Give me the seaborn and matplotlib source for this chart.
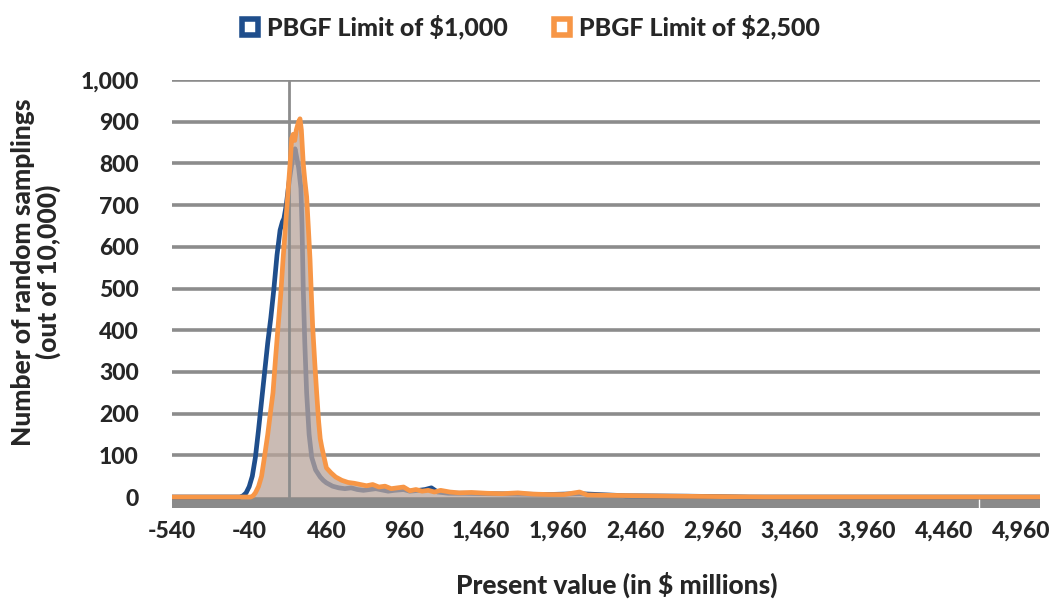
import numpy as np
import pandas as pd
import matplotlib
matplotlib.use("Agg")
import matplotlib.pyplot as plt
from matplotlib.lines import Line2D
from matplotlib.ticker import FuncFormatter
import seaborn as sns

# distribution of present value, PBGF limit $1,000
pv_1000 = [-540, -100, -80, -60, -40, -20, 0, 20, 40, 60, 80, 100, 120, 140, 160,
           175, 185, 200, 220, 240, 257, 280, 295, 302, 310, 320, 332, 348, 365,
           390, 420, 440, 460, 500, 540, 580, 620, 660, 700, 740, 780, 820, 860,
           900, 960, 1000, 1060, 1100, 1140, 1180, 1250, 1350, 1500, 1700, 1900,
           2100, 2400, 2800, 3200, 5083]
count_1000 = [0, 0, 3, 10, 25, 50, 95, 160, 230, 300, 370, 430, 500, 580, 640,
              660, 668, 700, 760, 810, 835, 790, 740, 650, 500, 370, 250, 150, 95,
              65, 48, 40, 34, 26, 22, 20, 22, 18, 16, 18, 20, 17, 14,
              16, 18, 14, 16, 18, 22, 12, 9, 9, 8, 7, 6,
              8, 3, 2, 0, 0]

# distribution of present value, PBGF limit $2,500
pv_2500 = [-540, -30, -15, 0, 20, 40, 56, 80, 100, 114, 130, 147, 165, 179, 195,
           211, 225, 235, 245, 255, 265, 280, 289, 298, 310, 320, 332, 344, 354,
           362, 371, 385, 397, 410, 420, 430, 445, 460, 490, 520, 560, 600, 640,
           680, 720, 760, 800, 840, 880, 920, 960, 1000, 1040, 1080, 1120, 1160,
           1200, 1260, 1320, 1400, 1500, 1600, 1700, 1800, 1900, 2000, 2100, 2150,
           2300, 2500, 2700, 3000, 3300, 5083]
count_2500 = [0, 0, 3, 10, 25, 50, 89, 150, 210, 250, 330, 409, 490, 569, 650,
              730, 800, 860, 870, 855, 880, 900, 907, 880, 800, 760, 720, 640, 569,
              490, 409, 320, 250, 180, 140, 120, 95, 70, 58, 48, 40, 35, 33,
              30, 27, 30, 24, 26, 20, 22, 24, 15, 18, 14, 16, 12,
              16, 12, 10, 11, 9, 8, 10, 7, 6, 6, 12, 5,
              4, 3, 2, 1, 0, 0]

y_ticks = list(range(0, 1001, 100))
x_ticks = list(range(-540, 4961, 500))

blue = "#1f4e8c"
orange = "#f79646"
grid_grey = "#8c8c8c"

sns.set_style("white")
plt.rcParams["font.family"] = ["Lato", "DejaVu Sans"]

fig = plt.figure(figsize=(10.58, 6.03), dpi=100)
ax = fig.add_axes([0.1626, 0.1575, 0.8204, 0.7098])

df1 = pd.DataFrame({"pv": pv_1000, "n": count_1000})
df2 = pd.DataFrame({"pv": pv_2500, "n": count_2500})

for y in y_ticks[1:]:
    ax.axhline(y, color=grid_grey, lw=2.6, zorder=0)

sns.lineplot(data=df1, x="pv", y="n", color=blue, lw=3.4, ax=ax, zorder=2)
ax.fill_between(df2["pv"], 0, df2["n"], color="#b9a59b", alpha=0.75, lw=0, zorder=3)
ax.axvline(220, ymin=0.025, ymax=1.0, color=grid_grey, lw=2, zorder=3.5)
sns.lineplot(data=df2, x="pv", y="n", color=orange, lw=3.4, ax=ax, zorder=4)

# thick grey floor under the zero line
ax.axhspan(-26.4, 0, color="#8a8a8a", lw=0, zorder=1)
ax.vlines(4690, -26.4, -2, color="white", lw=1, zorder=1.5)

ax.set_xlim(-540, 5083)
ax.set_ylim(-26.4, 1000)
ax.set_yticks(y_ticks)
ax.set_xticks(x_ticks)
ax.yaxis.set_major_formatter(FuncFormatter(lambda v, p: f"{int(v):,}"))
ax.xaxis.set_major_formatter(FuncFormatter(lambda v, p: f"{int(v):,}"))
ax.tick_params(axis="y", length=0, pad=24, labelsize=16.5)
ax.tick_params(axis="x", length=0, pad=9, labelsize=16.5)
for lbl in ax.get_xticklabels() + ax.get_yticklabels():
    lbl.set_fontweight("black")
for s in ax.spines.values():
    s.set_visible(False)
ax.set_xlabel("")
ax.set_ylabel("")

fig.text(617 / 1058, 1 - 585 / 603, "Present value (in $ millions)",
         fontsize=19, fontweight="black", ha="center", va="center")
fig.text(36 / 1058, 1 - 272 / 603, "Number of random samplings\n(out of 10,000)",
         fontsize=19, fontweight="black", ha="center", va="center",
         rotation=90, linespacing=1.05)

handles = [
    Line2D([], [], ls="none", marker="s", markersize=12, markerfacecolor="white",
           markeredgecolor=blue, markeredgewidth=4),
    Line2D([], [], ls="none", marker="s", markersize=12, markerfacecolor="white",
           markeredgecolor=orange, markeredgewidth=4),
]
fig.legend(handles, ["PBGF Limit of $1,000", "PBGF Limit of $2,500"],
           loc="center", bbox_to_anchor=(0.501, 0.955), ncol=2, frameon=False,
           prop={"size": 18, "weight": "black"}, handlelength=0.8,
           handletextpad=0.25, columnspacing=1.8)

fig.savefig("out.png", dpi=100)
